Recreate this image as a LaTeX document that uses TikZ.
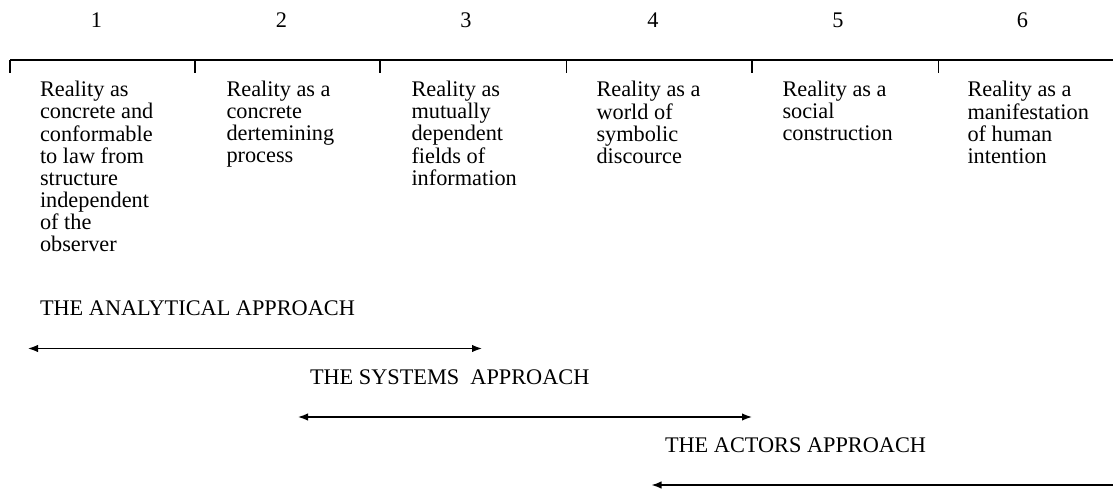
\documentclass[tikz,border=0pt]{standalone}
\usepackage{fontspec}
\setmainfont{Liberation Serif}
\usetikzlibrary{arrows.meta}
% a left-aligned block of lines whose baseline is that of its first line
\newcommand{\colblock}[1]{\begin{tabular}[t]{@{}l@{}}#1\end{tabular}}
\begin{document}
\begin{tikzpicture}[x=1pt,y=-1pt,
  every node/.style={inner sep=0pt,outer sep=0pt,font=\fontsize{22.3}{21.7}\selectfont},
  colnum/.style={anchor=base},
  coltext/.style={anchor=base west},
  approach/.style={anchor=base west},
  rule/.style={line width=1.4pt},
  span/.style={line width=1.5pt,{Latex[length=10pt,width=7.5pt]}-{Latex[length=10pt,width=7.5pt]}}]
  \useasboundingbox (0,0) rectangle (1113,489);

  % scale line with column ticks
  \coordinate (t1) at (10,60);
  \coordinate (t2) at (195,60);
  \coordinate (t3) at (380,60);
  \coordinate (t4) at (566.5,60);
  \coordinate (t5) at (752,60);
  \coordinate (t6) at (938.5,60);
  \coordinate (tend) at (1113,60);
  \draw[rule] (t1) -- (tend);
  \foreach \t in {t1,t2,t3,t4,t5,t6}
    \draw[rule] (\t) -- ++(0,13);

  % column numbers
  \node[colnum] (n1) at (96.5,28) {1};
  \node[colnum] (n2) at (281.5,28) {2};
  \node[colnum] (n3) at (466,28) {3};
  \node[colnum] (n4) at (653,28) {4};
  \node[colnum] (n5) at (838,28) {5};
  \node[colnum] (n6) at (1022.5,28) {6};

  % column descriptions
  \node[coltext] (c1) at (40,97) {\colblock{Reality as\\concrete and\\conformable\\to law from\\structure\\independent\\of the\\observer}};
  \node[coltext] (c2) at (226.5,97) {\colblock{Reality as a\\concrete\\dertemining\\process}};
  \node[coltext] (c3) at (411.5,97) {\colblock{Reality as\\mutually\\dependent\\fields of\\information}};
  \node[coltext] (c4) at (596.5,97) {\colblock{Reality as a\\world of\\symbolic\\discource}};
  \node[coltext] (c5) at (782.5,97) {\colblock{Reality as a\\social\\construction}};
  \node[coltext] (c6) at (967.5,97) {\colblock{Reality as a\\manifestation\\of human\\intention}};

  % approaches and their ranges
  \node[approach] (la) at (40,315) {THE ANALYTICAL APPROACH};
  \coordinate (la1) at (28,348.5);
  \coordinate (la2) at (482,348.5);
  \draw[span] (la1) -- (la2);

  \node[approach] (ls) at (310,384) {THE SYSTEMS\ \ APPROACH};
  \coordinate (ls1) at (298,417);
  \coordinate (ls2) at (752,417);
  \draw[span] (ls1) -- (ls2);

  \node[approach] (lt) at (665,452) {THE ACTORS APPROACH};
  \coordinate (lt1) at (651.5,485);
  \coordinate (lt2) at (1124,485);
  \draw[span] (lt1) -- (lt2);
\end{tikzpicture}
\end{document}
